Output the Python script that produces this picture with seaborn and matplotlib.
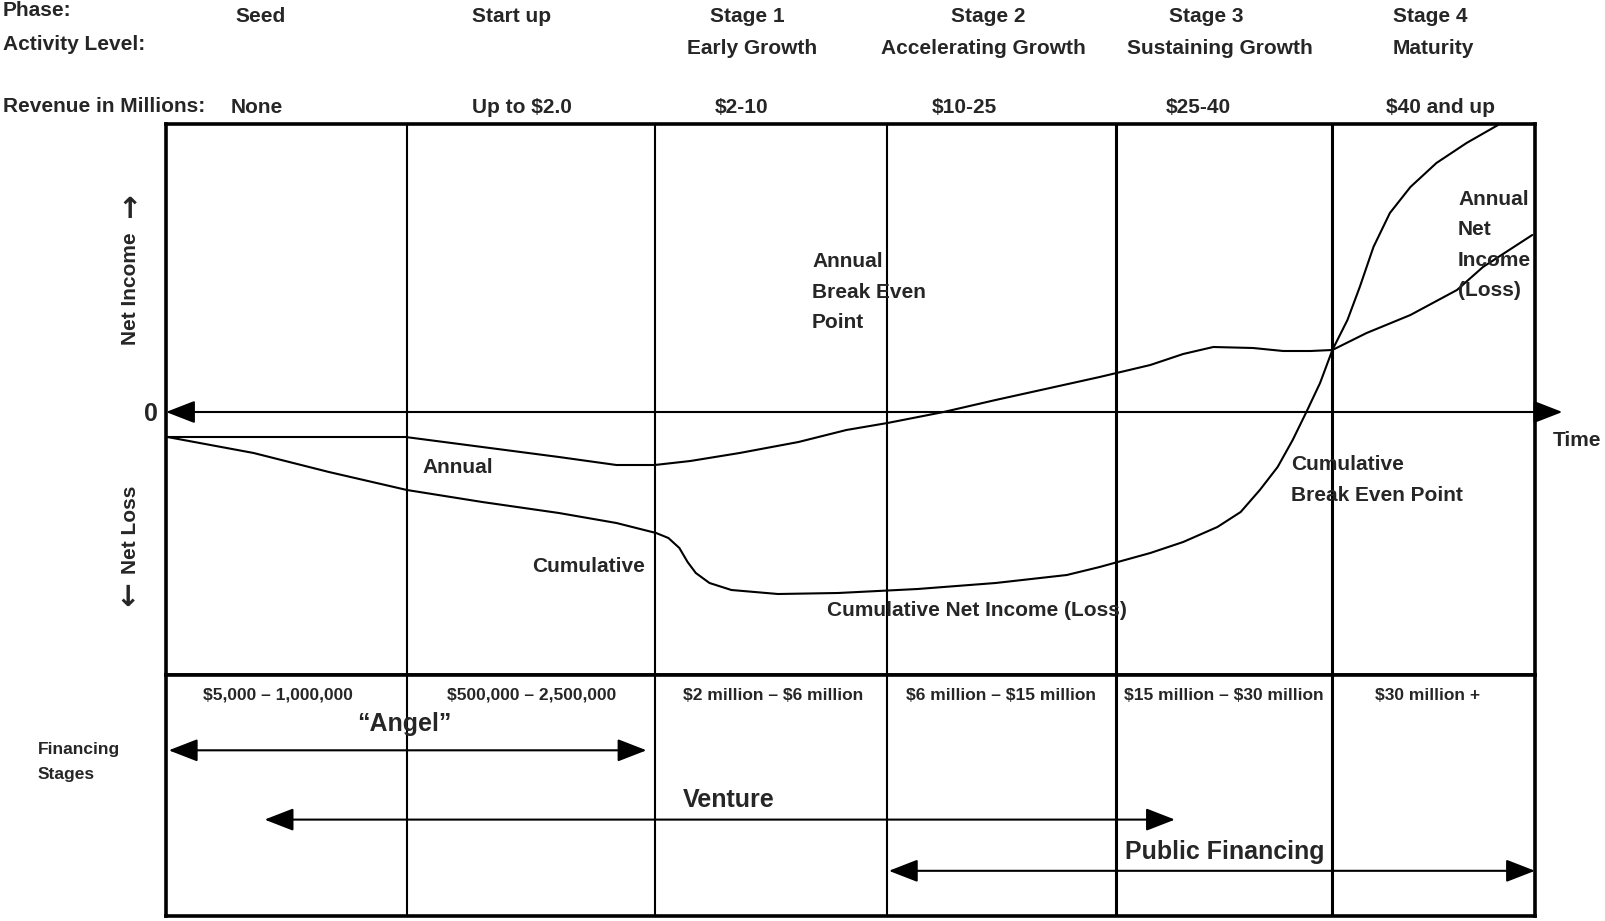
import numpy as np
import pandas as pd
import matplotlib
matplotlib.use('Agg')
import matplotlib.pyplot as plt
import seaborn as sns

sns.set_style('white')
plt.rcParams['font.family'] = ['Liberation Sans Narrow', 'Liberation Sans', 'DejaVu Sans']
plt.rcParams['font.weight'] = 'bold'
plt.rcParams['text.parse_math'] = False

# ---- data ----
# time runs 0..100 across the box, income in arbitrary units (0 = break even)
phase_names = ['Seed', 'Start up', 'Stage 1', 'Stage 2', 'Stage 3', 'Stage 4']
activity = ['', '', 'Early Growth', 'Accelerating Growth', 'Sustaining Growth', 'Maturity']
revenue = ['None', 'Up to $2.0', '$2-10', '$10-25', '$25-40', '$40 and up']
phase_bounds = [17.6, 35.7, 52.7, 69.4, 85.2]
financing_amounts = ['$5,000 \u2013 1,000,000', '$500,000 \u2013 2,500,000',
                     '$2 million \u2013 $6 million', '$6 million \u2013 $15 million',
                     '$15 million \u2013 $30 million', '$30 million +']

annual_t = [0.1, 17.5, 23.1, 28.7, 32.9, 35.7, 38.3, 41.9, 46.2, 49.7, 52.7, 56.8,
            60.6, 64.9, 68.2, 71.9, 74.3, 76.5, 79.4, 81.6, 83.6, 85.2, 87.7, 90.9,
            94.3, 96.2, 99.8]
annual_v = [-0.25, -0.25, -0.35, -0.45, -0.53, -0.53, -0.49, -0.41, -0.30, -0.18, -0.11, 0.0,
            0.12, 0.25, 0.35, 0.47, 0.58, 0.65, 0.64, 0.61, 0.61, 0.62, 0.79, 0.97,
            1.22, 1.45, 1.77]

cum_t = [0.1, 6.4, 11.9, 17.6, 23.1, 28.7, 32.9, 35.8, 36.7, 37.5, 38.1, 38.7, 39.7, 41.3,
         44.7, 49.1, 54.9, 60.6, 65.8, 68.2, 71.9, 74.3, 76.8, 78.5, 79.9, 81.2, 82.3,
         83.3, 84.3, 85.2, 86.3, 87.2, 88.2, 89.4, 90.9, 92.8, 95.0, 97.3]
cum_v = [-0.25, -0.41, -0.60, -0.78, -0.90, -1.01, -1.11, -1.21, -1.26, -1.36, -1.50, -1.61,
         -1.71, -1.78, -1.82, -1.81, -1.77, -1.71, -1.63, -1.55, -1.41, -1.30, -1.15, -1.00,
         -0.78, -0.55, -0.28, 0.0, 0.29, 0.62, 0.92, 1.25, 1.65, 1.99, 2.25, 2.49, 2.69, 2.87]

fin_names = ['\u201cAngel\u201d', 'Venture', 'Public Financing']
fin_start = [0.2, 7.2, 52.8]
fin_end = [35.1, 73.7, 100.0]
fin_lane = [1.25, 2.4, 3.25]

W, H = 1605, 921
fig = plt.figure(figsize=(W / 100, H / 100), dpi=100)


def fx(x):
    return x / W


def fy(y):
    return 1 - y / H


ax = fig.add_axes([fx(166), fy(675), fx(1535) - fx(166), fy(124) - fy(675)])
axb = fig.add_axes([fx(166), fy(916), fx(1535) - fx(166), fy(675) - fy(916)])

df = pd.concat([
    pd.DataFrame({'t': annual_t, 'v': annual_v, 'series': 'Annual'}),
    pd.DataFrame({'t': cum_t, 'v': cum_v, 'series': 'Cumulative'}),
])
sns.lineplot(data=df, x='t', y='v', units='series', estimator=None, color='black',
             lw=1.5, ax=ax, legend=False)

ax.set_xlim(0, 100)
ax.set_ylim(-2.63, 2.88)
axb.set_xlim(0, 100)
axb.set_ylim(4, 0)

for a in (ax, axb):
    a.set_xticks([])
    a.set_yticks([])
    a.set_xlabel('')
    a.set_ylabel('')
    for s in a.spines.values():
        s.set_visible(True)
        s.set_color('black')
        s.set_linewidth(2.6)
    for i, b in enumerate(phase_bounds):
        a.axvline(b, color='black', lw=1.5 if i < 3 else 2.2)

arrow_style = dict(arrowstyle='<|-|>,head_length=0.9,head_width=0.35',
                   color='black', lw=1.5, mutation_scale=20, shrinkA=0, shrinkB=0)

# zero axis with arrows
ax.annotate('', xy=(102, 0), xytext=(0, 0), annotation_clip=False, arrowprops=arrow_style)
fig.text(fx(151), fy(414), '0', fontsize=18, ha='center', va='center')
fig.text(fx(1553), fy(440), 'Time', fontsize=15, ha='left', va='center')

fig.text(fx(130), fy(289), 'Net Income', rotation=90, fontsize=15, ha='center', va='center')
fig.text(fx(130), fy(530), 'Net Loss', rotation=90, fontsize=15, ha='center', va='center')
fig.text(fx(130), fy(210), '\u2191', fontsize=21, ha='center', va='center',
         family='DejaVu Sans')
fig.text(fx(128), fy(598), '\u2193', fontsize=21, ha='center', va='center',
         family='DejaVu Sans')

# curve labels
fig.text(fx(422), fy(467), 'Annual', fontsize=15, va='center')
fig.text(fx(532), fy(566), 'Cumulative', fontsize=15, va='center')
fig.text(fx(812), fy(292), 'Annual\nBreak Even\nPoint', fontsize=15, va='center',
         linespacing=1.75)
fig.text(fx(827), fy(610), 'Cumulative Net Income (Loss)', fontsize=15, va='center')
fig.text(fx(1291), fy(480), 'Cumulative\nBreak Even Point', fontsize=15, va='center',
         linespacing=1.75)
fig.text(fx(1458), fy(245), 'Annual\nNet\nIncome\n(Loss)', fontsize=15, va='center',
         linespacing=1.75)

# header
fig.text(fx(3), fy(11), 'Phase:', fontsize=15, va='center')
fig.text(fx(3), fy(44), 'Activity Level:', fontsize=15, va='center')
fig.text(fx(3), fy(106), 'Revenue in Millions:', fontsize=15, va='center')
phase_x = [261, 512, 747, 988, 1206, 1430]
act_x = [261, 512, 752, 983, 1220, 1433]
rev_x = [257, 522, 742, 964, 1198, 1440]
for i in range(6):
    fig.text(fx(phase_x[i]), fy(17), phase_names[i], fontsize=15, ha='center', va='center')
    if activity[i]:
        fig.text(fx(act_x[i]), fy(48), activity[i], fontsize=15, ha='center', va='center')
    fig.text(fx(rev_x[i]), fy(107), revenue[i], fontsize=15, ha='center', va='center')

# financing panel
amount_x = [278, 532, 773, 1001, 1224, 1428]
for i in range(6):
    fig.text(fx(amount_x[i]), fy(695), financing_amounts[i], fontsize=12.5, ha='center',
             va='center')
fig.text(fx(38), fy(762), 'Financing\nStages', fontsize=12.5, va='center', linespacing=1.9)

name_pos = [(404, 724), (729, 800), (1225, 852)]
for i in range(3):
    axb.annotate('', xy=(fin_end[i], fin_lane[i]), xytext=(fin_start[i], fin_lane[i]),
                 annotation_clip=False, arrowprops=arrow_style)
    fig.text(fx(name_pos[i][0]), fy(name_pos[i][1]), fin_names[i], fontsize=18,
             ha='center', va='center')

fig.savefig('out.png', dpi=100)
